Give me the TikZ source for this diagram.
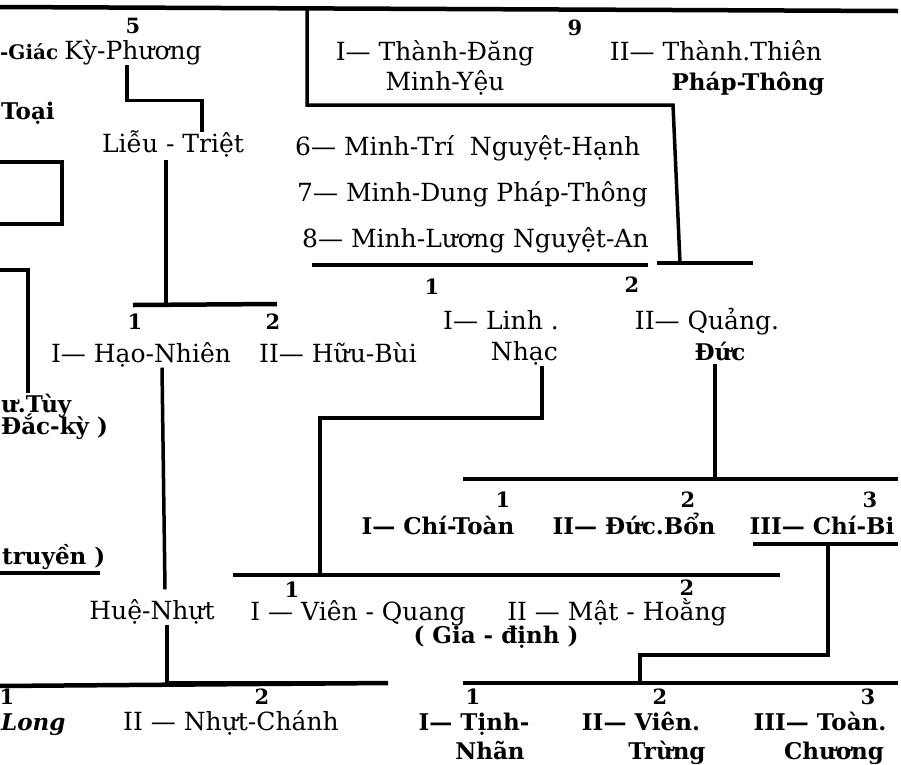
\documentclass[tikz,border=0pt]{standalone}
\usepackage{fontspec}
\setmainfont{DejaVu Serif}
\usepackage{tikz}
\usepackage{xcolor}
\usetikzlibrary{positioning,calc}

\begin{document}
\begin{tikzpicture}[x=1pt, y=-1pt,
		ten/.style={inner sep=0pt, anchor=mid, yshift=-5pt, font=\fontsize{25}{28}\selectfont},
		tenb/.style={ten, font=\fontsize{23}{26}\selectfont\bfseries},
		so/.style={inner sep=0pt, anchor=mid, yshift=-3pt, font=\fontsize{21}{24}\selectfont\bfseries},
		bar/.style={line width=4.5pt},
		link/.style={line width=3.5pt}]
	\useasboundingbox (0,0) rectangle (901,764);
	\coordinate (tl) at (-3,7);
	\coordinate (tr) at (898,11);
	\draw[bar] (tl) -- (tr);

	\node[tenb, anchor=mid west, font=\fontsize{20}{22}\selectfont\bfseries] (giac) at (0,52) {-Giác};
	\node[ten] (kyp) at (133,52) {Kỳ-Phương};
	\node[so, above=9pt of kyp] (n5) {5};
	\node[tenb, anchor=mid west] (toai) at (1,112) {Toại};
	\node[ten] (lieu) at (173,145) {Liễu - Triệt};
	\draw[link] ([xshift=-6pt]kyp.south) -- ++(0,35) -| ([xshift=29pt,yshift=-1pt]lieu.north);

	\coordinate (hz1) at (-3,162);
	\coordinate (hz2) at (-3,224);
	\coordinate (hzc) at (62,224);
	\draw[link] (hz1) -| (hzc) -- (hz2);
	\coordinate (tuy0) at (-3,270);
	\coordinate (tuyx) at (28,393);
	\draw[link] (tuy0) -| (tuyx);
	\node[tenb, anchor=mid west] (tuy) at (1,405) {ư.Tùy};
	\node[tenb, anchor=mid west] (dacky) at (1,427) {Đắc-kỳ )};

	\coordinate (b2l) at (133,305);
	\coordinate (b2r) at (277,304);
	\draw[bar] (b2l) -- (b2r);
	\draw[link] ([xshift=-7pt,yshift=-2pt]lieu.south) |- (b2l);
	\node[so] (n1e) at (135,324) {1};
	\node[so] (n2e) at (273,324) {2};
	\node[ten] (hao) at (141,355) {I— Hạo-Nhiên};
	\node[ten] (huu) at (338,355) {II— Hữu-Bùi};
	\node[ten] (hue) at (152,612) {Huệ-Nhựt};
	\draw[link] ([xshift=21pt]hao.south) -- ([xshift=13pt,yshift=10pt]hue.north);
	\coordinate (b7l) at (-3,686);
	\coordinate (b7r) at (388,683);
	\draw[bar] (b7l) -- (b7r);
	\draw[link] ([xshift=15pt]hue.south) |- (b7r);
	\node[so] (n1f) at (7,699) {1};
	\node[so] (n2f) at (262,699) {2};
	\node[tenb, anchor=mid west, font=\fontsize{23}{26}\selectfont\bfseries\itshape] (long) at (1,723) {Long};
	\node[ten] (nc) at (231,723) {II — Nhựt-Chánh};
	\node[tenb, anchor=mid west] (truyen) at (2,557) {truyền )};
	\coordinate (u1) at (-3,573);
	\coordinate (u2) at (100,573);
	\draw[link] (u1) -- (u2);

	\coordinate (k9a) at (307,7);
	\coordinate (k9b) at (673,105);
	\coordinate (k9c) at (680,263);
	\draw[link] (k9a) |- (k9b) -- (k9c);
	\node[so] (n9) at (575,30) {9};
	\node[ten] (than1) at (435,53) {I— Thành-Đăng};
	\node[ten] (yeu) at (445,83) {Minh-Yệu};
	\node[ten] (than2) at (716,53) {II— Thành.Thiên};
	\node[tenb] (pt1) at (748,83) {Pháp-Thông};
	\node[ten, anchor=mid west] (m6) at (295,148) {6— Minh-Trí \ Nguyệt-Hạnh};
	\node[ten, anchor=mid west] (m7) at (297,194) {7— Minh-Dung Pháp-Thông};
	\node[ten, anchor=mid west] (m8) at (302,240) {8— Minh-Lương Nguyệt-An};
	\coordinate (b1l) at (312,265);
	\coordinate (b1r) at (648,265);
	\coordinate (b1s) at (657,263);
	\coordinate (b1t) at (753,263);
	\draw[bar] (b1l) -- (b1r);
	\draw[bar] (b1s) -- (b1t);
	\node[so] (n1a) at (432,289) {1};
	\node[so] (n2a) at (632,287) {2};
	\node[ten] (linh) at (501,322) {I— Linh .};
	\node[ten, anchor=mid east] (nhac) at (558,353) {Nhạc};
	\node[ten] (quang) at (707,322) {II— Quảng.};
	\node[tenb] (duc) at (720,353) {Đức};

	\coordinate (b3l) at (233,575);
	\coordinate (b3r) at (780,575);
	\coordinate (k3) at (320,418);
	\draw[bar] (b3l) -- (b3r);
	\draw[link] ([xshift=-16pt]nhac.south east) |- (k3) -- (k3 |- b3l);
	\node[so] (n1d) at (292,592) {1};
	\node[so] (n2d) at (687,590) {2};
	\node[ten] (vq) at (358,613) {I — Viên - Quang};
	\node[ten] (mh) at (617,613) {II — Mật - Hoằng};
	\node[tenb] (gd) at (496,636) {( Gia - định )};

	\coordinate (b4l) at (463,479);
	\coordinate (b4r) at (898,479);
	\draw[bar] (b4l) -- (b4r);
	\draw[link] ([xshift=-5pt,yshift=-3pt]duc.south) |- (b4r);
	\node[so] (n1b) at (503,502) {1};
	\node[so] (n2b) at (688,502) {2};
	\node[so] (n3b) at (870,502) {3};
	\node[tenb] (chitoan) at (438,527) {I— Chí-Toàn};
	\node[tenb] (ducbon) at (634,527) {II— Đức.Bổn};
	\node[tenb] (chibi) at (822,527) {III— Chí-Bi};
	\coordinate (b5l) at (753,544);
	\coordinate (b5r) at (898,544);
	\draw[link] (b5l) -- (b5r);

	\coordinate (b6l) at (463,683);
	\coordinate (b6r) at (898,683);
	\coordinate (k5) at (828,544);
	\coordinate (k6) at (640,655);
	\draw[bar] (b6l) -- (b6r);
	\draw[link] (k5) |- (k6) -- (k6 |- b6l);
	\node[so] (n1c) at (473,699) {1};
	\node[so] (n2c) at (660,699) {2};
	\node[so] (n3c) at (868,699) {3};
	\node[tenb] (tinh) at (474,723) {I— Tịnh-};
	\node[tenb] (nhan) at (490,752) {Nhãn};
	\node[tenb] (vien) at (641,723) {II— Viên.};
	\node[tenb] (trung) at (667,752) {Trừng};
	\node[tenb] (toan) at (820,723) {III— Toàn.};
	\node[tenb] (chuong) at (834,752) {Chương};
\end{tikzpicture}
\end{document}
